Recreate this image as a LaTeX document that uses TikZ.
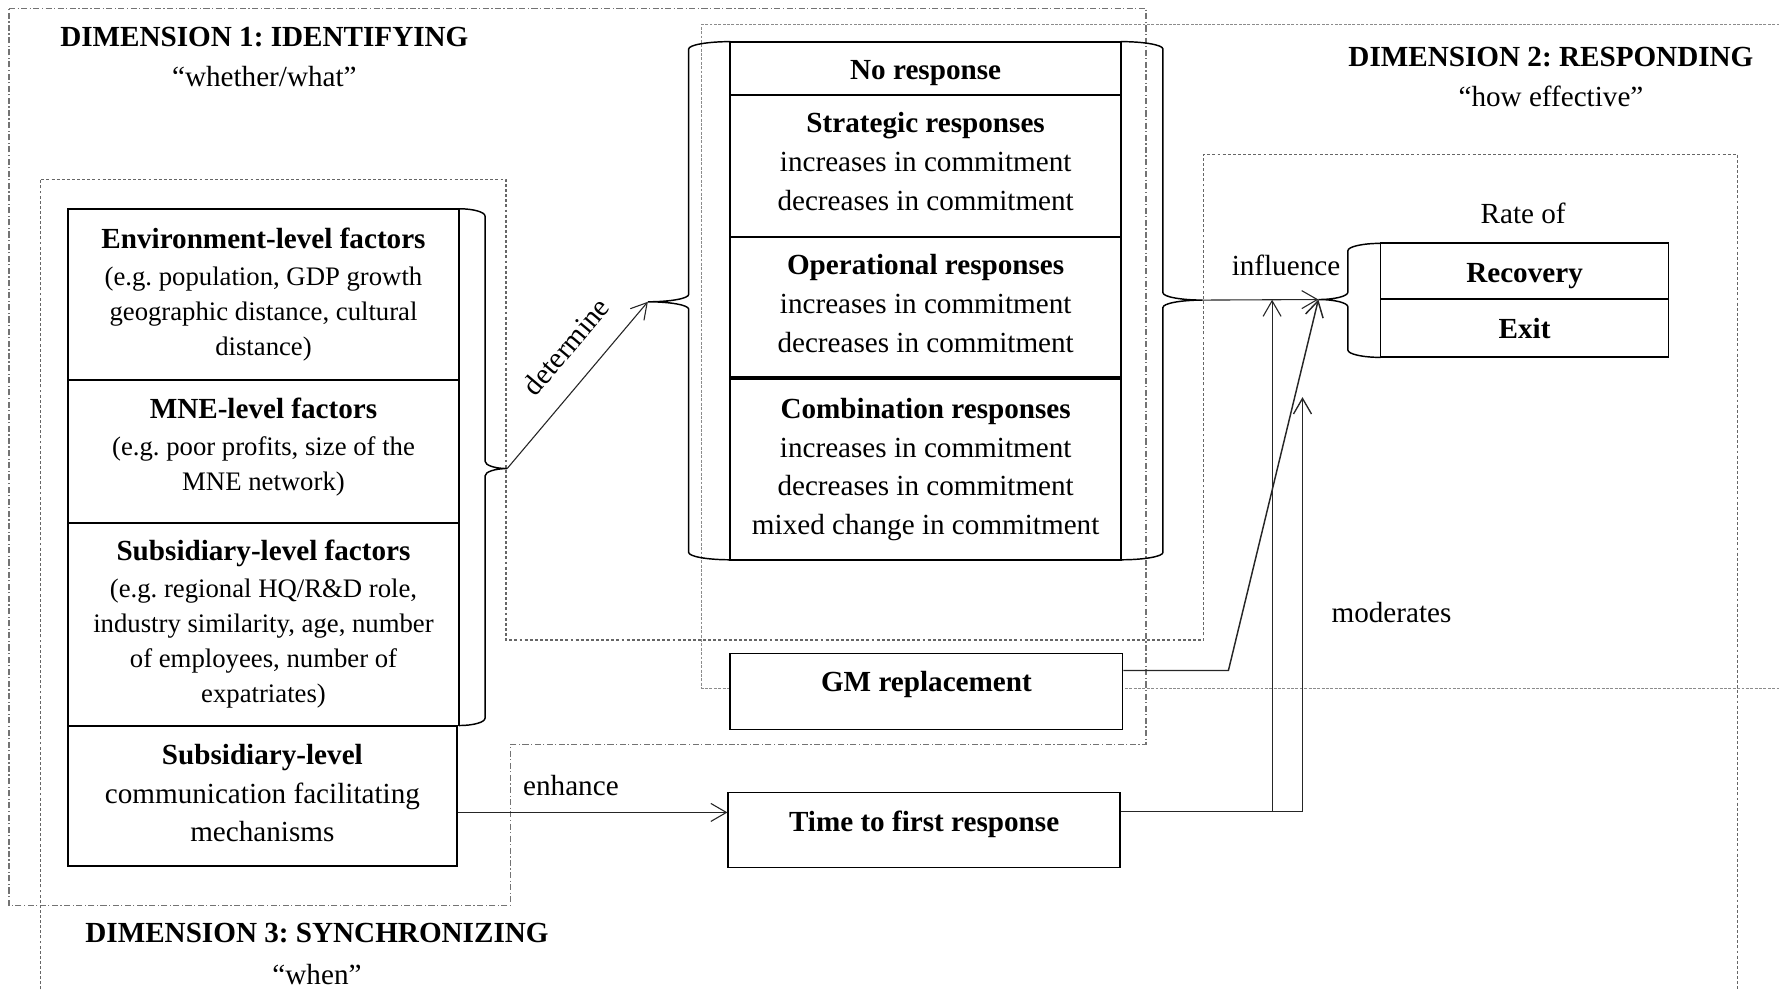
\documentclass[tikz,border=0pt]{standalone}
\usepackage{fontspec}
\setmainfont{Liberation Serif}
\usetikzlibrary{arrows.meta,calc}
\frenchspacing

\newcommand\ftwelve{\fontsize{12}{15.9}\selectfont}
\newcommand\feleven{\fontsize{11}{14.4}\selectfont}

% curly brace: #1 tip name, #2 x of box edge, #3 top y, #4 bottom y,
% #5 x of spine, #6 x of tip, #7 y of tip
\newcommand{\drawbrace}[7]{%
  \draw[bracestyle] (#2,#3) .. controls ({#2+0.55*(#5-#2)},#3) and (#5,{#3+2.9}) .. (#5,{#3+6.5})
    -- (#5,{#7-6.5}) .. controls (#5,{#7-2.9}) and ({#6-0.55*(#6-#5)},#7) .. (#6,#7)
    coordinate (#1)
    .. controls ({#6-0.55*(#6-#5)},#7) and (#5,{#7+2.9}) .. (#5,{#7+6.5})
    -- (#5,{#4-6.5}) .. controls (#5,{#4-2.9}) and ({#2+0.55*(#5-#2)},#4) .. (#2,#4);
}

\tikzset{
  boxsize/.style 2 args={minimum width=#1*0.467pt, minimum height=#2*0.467pt},
  box/.style={draw, line width=0.75pt, fill=white, inner sep=0pt, align=center, font=\ftwelve},
  lbl/.style={inner sep=0pt, align=center, font=\ftwelve},
  conn/.style={draw=black!85, line width=0.45pt, -{Straight Barb[length=6.4pt,width=7.4pt]}},
  bracestyle/.style={draw=black, line width=0.6pt},
  dimone/.style={draw=black!55, line width=0.5pt, dash pattern=on 2.5pt off 1pt on 0.5pt off 1pt},
  dimtwo/.style={draw=black!45, line width=0.45pt, dash pattern=on 1.2pt off 0.6pt},
  dimthree/.style={draw=black!60, line width=0.55pt, dash pattern=on 1.2pt off 0.9pt},
}

\begin{document}
\begin{tikzpicture}[x=0.467pt, y=-0.467pt]
\useasboundingbox (0,0) rectangle (1568,873);
\clip (0,0) rectangle (1568,873);

% dimension frames
\draw[dimone] (8,7.3) -- (1010,7.3) -- (1010,656) -- (450,656) -- (450,798) -- (8,798) -- cycle;
\draw[dimtwo] (1580,21.5) -- (618.5,21.5) -- (618.5,606.5) -- (1580,606.5);
\draw[dimthree] (35.5,890) -- (35.5,158) -- (446,158) -- (446,564) -- (1061,564)
  -- (1061,136) -- (1531.5,136) -- (1531.5,890);

% dimension titles
\node[lbl, font=\fontsize{12}{16.6}\selectfont] (d1) at (233,50)
  {\textbf{DIMENSION 1: IDENTIFYING}\\“whether/what”};
\node[lbl, font=\fontsize{12}{16.4}\selectfont] (d2) at (1367,67.5)
  {\textbf{DIMENSION 2: RESPONDING}\\“how effective”};
\node[lbl, font=\fontsize{12}{17.3}\selectfont] (d3) at (279.4,840.5)
  {\textbf{DIMENSION 3: SYNCHRONIZING}\\“when”};

% antecedent factors
\node[box, boxsize={344.5}{151}, font=\feleven] (env) at (232.25,259.5)
  {{\ftwelve\bfseries Environment-level factors}\\[0.8pt](e.g. population, GDP growth\\geographic distance, cultural\\distance)};
\node[box, boxsize={344.5}{126}, font=\feleven, text depth=6.2pt] (mne) at (232.25,398)
  {{\ftwelve\bfseries MNE-level factors}\\[0.8pt](e.g. poor profits, size of the\\MNE network)};
\node[box, boxsize={344.5}{178.5}, font=\feleven] (subf) at (232.25,550.25)
  {{\ftwelve\bfseries Subsidiary-level factors}\\[0.8pt](e.g. regional HQ/R\&D role,\\industry similarity, age, number\\of employees, number of\\expatriates)};
\node[box, boxsize={342.5}{123}, text depth=2.4pt] (comm) at (231.25,701.5)
  {\textbf{Subsidiary-level}\\communication facilitating\\mechanisms};

% responses
\node[box, boxsize={344.3}{47}, text height=12pt, text depth=2.6pt] (none) at (815.85,60.2) {\textbf{No response}};
\node[box, boxsize={344.3}{124.9}, text depth=3.7pt] (strat) at (815.85,146.15)
  {\textbf{Strategic responses}\\increases in commitment\\decreases in commitment};
\node[box, boxsize={344.3}{125.4}, text depth=3.7pt] (oper) at (815.85,271.3)
  {\textbf{Operational responses}\\increases in commitment\\decreases in commitment};
\node[box, boxsize={344.3}{159.4}] (comb) at (815.85,413.7)
  {\textbf{Combination responses}\\increases in commitment\\decreases in commitment\\mixed change in commitment};
\draw[line width=1.3pt] (comb.north west) -- (comb.north east);

\node[box, boxsize={345.8}{67}, text depth=8pt] (gm) at (816.5,609.5) {\textbf{GM replacement}};
\node[box, boxsize={345}{66.1}, text depth=6.8pt] (tfr) at (814.5,731.55) {\textbf{Time to first response}};

% outcomes
\node[box, boxsize={253.8}{49}, text height=12pt, text depth=2.6pt] (rec) at (1343.7,239) {\textbf{Recovery}};
\node[box, boxsize={253.8}{51.5}] (exit) at (1343.7,289.25) {\textbf{Exit}};
\node[lbl] (rate) at (1342.5,188) {Rate of};

% braces
\drawbrace{ftip}{404.5}{184}{639.5}{427.5}{447}{413}
\drawbrace{rtipL}{643.7}{36.7}{493.4}{607}{571}{266}
\drawbrace{rtipR}{988}{36.7}{493.4}{1025}{1060}{264.5}
\drawbrace{otip}{1216.8}{214.5}{315}{1188}{1162}{264}

% connectors
\draw[conn] (ftip) -- node[lbl, pos=0.6, sloped, above=9.4pt] {determine} (rtipL);
\draw[conn] (rtipR) -- node[lbl, pos=0.72, above=9.5pt] {influence} (otip);

\coordinate (gmout) at ($(gm.north east)!0.23!(gm.south east)$);
\draw[conn, line width=0.6pt] (gmout) -- ++(92.5,0) -- (otip);

\coordinate (commout) at ($(comm.north east)!0.617!(comm.south east)$);
\draw[conn] (commout) -- node[lbl, pos=0.42, above=6.7pt] {enhance} (commout -| tfr.west);

\coordinate (tfrout) at ($(tfr.north east)!0.26!(tfr.south east)$);
\coordinate (modtip) at (1148,350);
\draw[conn, line width=0.55pt] (tfrout) -| node[lbl, pos=0.74, right=11.7pt] {moderates} (modtip);

\coordinate (ixpt) at ($(rtipR)!0.6!(otip)$);
\draw[conn] (tfrout -| ixpt) -- (ixpt);
\end{tikzpicture}
\end{document}
